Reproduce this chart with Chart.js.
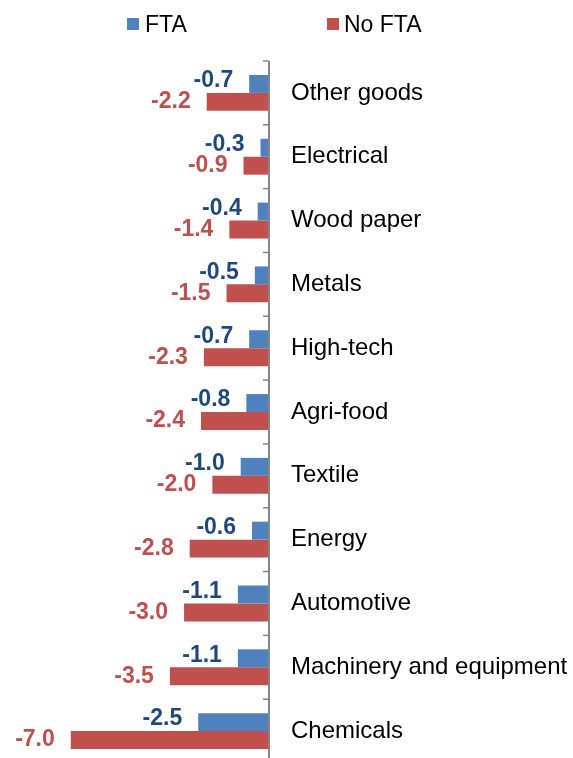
<!DOCTYPE html>
<html>
<head>
<meta charset="utf-8">
<script src="https://cdn.jsdelivr.net/npm/chart.js@4/dist/chart.umd.min.js"></script>
<style>
  html, body { margin: 0; padding: 0; background: #fff; overflow: hidden; }
  #wrap { position: relative; width: 573px; height: 764px; }
  #legend { position: absolute; left: 0; top: 0; width: 573px; height: 50px;
            font-family: "Liberation Sans", Arial, sans-serif; font-size: 23px; color: #000; }
  .box { position: absolute; width: 12px; height: 12px; top: 18px; }
  .lab { position: absolute; top: 10px; line-height: 28px; }
</style>
</head>
<body>
<div id="wrap">
  <canvas id="chart" width="573" height="764"></canvas>
  <div id="legend">
    <div class="box" style="left:127px;background:#4F81BD"></div><div class="lab" style="left:145px">FTA</div>
    <div class="box" style="left:327px;background:#C0504D"></div><div class="lab" style="left:344px">No FTA</div>
  </div>
</div>
<script>
var categories = ['Other goods', 'Electrical', 'Wood paper', 'Metals', 'High-tech', 'Agri-food',
                  'Textile', 'Energy', 'Automotive', 'Machinery and equipment', 'Chemicals'];
var ftaValues   = [-0.7, -0.3, -0.4, -0.5, -0.7, -0.8, -1.0, -0.6, -1.1, -1.1, -2.5];
var noFtaValues = [-2.2, -0.9, -1.4, -1.5, -2.3, -2.4, -2.0, -2.8, -3.0, -3.5, -7.0];

var fontFamily = '"Liberation Sans", Arial, sans-serif';
var labelColors = ['#1F497D', '#C0504D'];

// value labels drawn left of each bar end
var valueLabels = {
  id: 'valueLabels',
  afterDatasetsDraw: function(chart) {
    var ctx = chart.ctx;
    ctx.save();
    ctx.font = 'bold 23px ' + fontFamily;
    ctx.textAlign = 'right';
    ctx.textBaseline = 'middle';
    chart.data.datasets.forEach(function(ds, di) {
      var meta = chart.getDatasetMeta(di);
      ctx.fillStyle = labelColors[di];
      meta.data.forEach(function(bar, i) {
        var shift = di == 0 ? -3 : 0;
        ctx.fillText(ds.data[i].toFixed(1), bar.x - 16, bar.y + shift);
      });
    });
    ctx.restore();
  }
};

// axis line with small inward tick marks at category boundaries
var axisTicks = {
  id: 'axisTicks',
  afterDraw: function(chart) {
    var ctx = chart.ctx;
    var y = chart.scales.y;
    var area = chart.chartArea;
    var x0 = chart.scales.x.getPixelForValue(0);
    ctx.save();
    ctx.strokeStyle = '#868686';
    ctx.lineWidth = 2;
    ctx.beginPath();
    ctx.moveTo(x0, area.top);
    ctx.lineTo(x0, area.bottom + 5);
    ctx.stroke();
    ctx.lineWidth = 1.5;
    for (var i = 0; i <= categories.length; i++) {
      var py;
      if (i == 0) py = area.top;
      else if (i == categories.length) py = area.bottom;
      else py = (y.getPixelForValue(i - 1) + y.getPixelForValue(i)) / 2;
      ctx.beginPath();
      ctx.moveTo(x0 - 6, py);
      ctx.lineTo(x0, py);
      ctx.stroke();
    }
    ctx.restore();
  }
};

new Chart(document.getElementById('chart').getContext('2d'), {
  type: 'bar',
  data: {
    labels: categories,
    datasets: [{
      label: 'FTA',
      data: ftaValues,
      backgroundColor: '#4F81BD',
      categoryPercentage: 0.5625,
      barPercentage: 1.0
    }, {
      label: 'No FTA',
      data: noFtaValues,
      backgroundColor: '#C0504D',
      categoryPercentage: 0.5625,
      barPercentage: 1.0
    }]
  },
  options: {
    indexAxis: 'y',
    responsive: false,
    animation: false,
    layout: { padding: { top: 61, bottom: 1, left: 0, right: 0 } },
    plugins: {
      legend: { display: false },
      tooltip: { enabled: false }
    },
    scales: {
      x: {
        display: false,
        min: -9.5,
        max: 0
      },
      y: {
        position: 'right',
        grid: { display: false, drawTicks: false, tickLength: 0 },
        border: { display: false },
        ticks: {
          padding: 22,
          color: '#000',
          font: { family: fontFamily, size: 24 }
        },
        afterFit: function(scale) {
          scale.width = 304;
          scale.paddingTop = 0;
          scale.paddingBottom = 0;
        }
      }
    }
  },
  plugins: [valueLabels, axisTicks]
});
</script>
</body>
</html>
